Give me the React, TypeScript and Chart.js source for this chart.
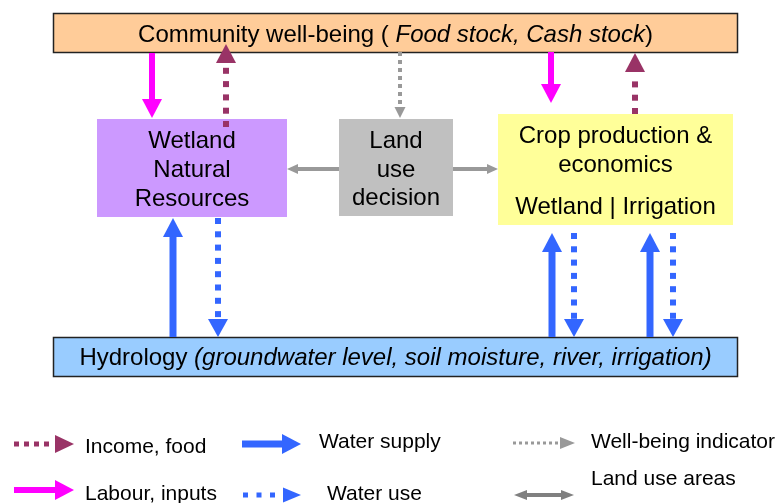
import React, { useEffect, useRef } from "react";
import { Chart, registerables } from "chart.js";

Chart.register(...registerables);

// ---------- diagram data ----------
// Boxes (text lines; "_" toggles italic)
const nodeLines: string[][] = [
  ["Community well-being ( _Food stock, Cash stock_)"],
  ["Wetland", "Natural", "Resources"],
  ["Land", "use", "decision"],
  ["Crop production &", "economics", "Wetland | Irrigation"],
  ["Hydrology _(groundwater level, soil moisture, river, irrigation)_"],
];
const nodeLeft = [53, 97, 339, 498, 53];
const nodeRight = [738, 287, 453, 733, 738];
const nodeTop = [13, 119, 119, 114, 337];
const nodeBottom = [53, 217, 216, 225, 377];
const nodeBaselines = [[42], [148, 177, 206], [148, 177, 205], [143, 172, 214], [365]];
const nodeFills = ["#FFCC99", "#CC99FF", "#C0C0C0", "#FFFF99", "#99CCFF"];
const nodeBordered = [true, false, false, false, true];

// Flows (arrows)
const flowKinds = [
  "labour", "income", "indicator", "labour", "income",
  "landuse", "landuse",
  "supply", "use", "supply", "use", "supply", "use",
];
const flowX0 = [152, 226, 400, 551, 635, 339, 453, 173, 218, 552, 574, 650, 673];
const flowY0 = [53, 127, 52, 52, 114, 169, 169, 337, 218, 337, 233, 337, 233];
const flowX1 = [152, 226, 400, 551, 635, 287, 498, 173, 218, 552, 574, 650, 673];
const flowY1 = [118, 44, 118, 103, 53, 169, 169, 218, 337, 233, 337, 233, 337];

// Legend
const legendKinds = ["income", "supply", "indicator", "labour", "use", "landuseBoth"];
const legendLabels = [
  "Income, food", "Water supply", "Well-being indicator",
  "Labour, inputs", "Water use", "Land use areas",
];
const legendX0 = [14, 242, 513, 14, 243, 514];
const legendX1 = [74, 301, 575, 74, 301, 574];
const legendY = [444, 444, 443, 490, 495, 495];
const legendTextX = [85, 319, 591, 85, 327, 591];
const legendTextBaseline = [453, 448, 448, 500, 500, 485];

// ---------- styles ----------
type ArrowStyle = {
  color: string; width: number; head: number; headW: number;
  dot?: number; period?: number; both?: boolean;
};
const kindStyles: Record<string, ArrowStyle> = {
  income: { color: "#993366", width: 6, head: 19, headW: 20, dot: 6, period: 13.3 },
  labour: { color: "#FF00FF", width: 6, head: 19, headW: 20 },
  indicator: { color: "#999999", width: 4, head: 11, headW: 11, dot: 4, period: 8 },
  landuse: { color: "#999999", width: 4, head: 11, headW: 10 },
  landuseBoth: { color: "#808080", width: 4, head: 13, headW: 10, both: true },
  supply: { color: "#3366FF", width: 7, head: 19, headW: 20 },
  use: { color: "#3366FF", width: 6, head: 18, headW: 20, dot: 6, period: 13.3 },
};
const legendStyleOverride: Record<string, Partial<ArrowStyle>> = {
  income: { dot: 5, period: 10, headW: 18 },
  use: { dot: 5, period: 13.5, headW: 15 },
  indicator: { dot: 3, period: 6, head: 15, headW: 12, width: 3 },
};

const FONT = '"Liberation Sans", Arial, Helvetica, sans-serif';

function drawArrow(
  ctx: CanvasRenderingContext2D,
  x1: number, y1: number, x2: number, y2: number, st: ArrowStyle
) {
  const dx = x2 - x1, dy = y2 - y1;
  const len = Math.hypot(dx, dy);
  const ux = dx / len, uy = dy / len;
  const nx = -uy, ny = ux;
  ctx.fillStyle = st.color;
  const s0 = st.both ? st.head : 0;
  const s1 = len - st.head;
  if (st.dot && st.period) {
    for (let d = s0; d + st.dot <= s1 + 0.5; d += st.period) {
      const cx = x1 + ux * (d + st.dot / 2);
      const cy = y1 + uy * (d + st.dot / 2);
      ctx.fillRect(cx - st.dot / 2, cy - st.dot / 2, st.dot, st.dot);
    }
  } else {
    const hw = st.width / 2;
    const ax = x1 + ux * s0, ay = y1 + uy * s0;
    const bx = x1 + ux * (s1 + 1), by = y1 + uy * (s1 + 1);
    ctx.beginPath();
    ctx.moveTo(ax + nx * hw, ay + ny * hw);
    ctx.lineTo(bx + nx * hw, by + ny * hw);
    ctx.lineTo(bx - nx * hw, by - ny * hw);
    ctx.lineTo(ax - nx * hw, ay - ny * hw);
    ctx.closePath();
    ctx.fill();
  }
  const head = (tx: number, ty: number, vx: number, vy: number) => {
    const bx = tx - vx * st.head, by = ty - vy * st.head;
    const h = st.headW / 2;
    ctx.beginPath();
    ctx.moveTo(tx, ty);
    ctx.lineTo(bx - vy * h, by + vx * h);
    ctx.lineTo(bx + vy * h, by - vx * h);
    ctx.closePath();
    ctx.fill();
  };
  head(x2, y2, ux, uy);
  if (st.both) head(x1, y1, -ux, -uy);
}

function drawRichText(
  ctx: CanvasRenderingContext2D, text: string, cx: number, baseline: number, size: number
) {
  const parts = text.split("_");
  const fonts = parts.map((_, i) => (i % 2 === 1 ? "italic " : "") + `${size}px ${FONT}`);
  let total = 0;
  const widths = parts.map((p, i) => {
    ctx.font = fonts[i];
    const w = ctx.measureText(p).width;
    total += w;
    return w;
  });
  let x = cx - total / 2;
  ctx.textAlign = "left";
  ctx.textBaseline = "alphabetic";
  ctx.fillStyle = "#000";
  parts.forEach((p, i) => {
    ctx.font = fonts[i];
    ctx.fillText(p, x, baseline);
    x += widths[i];
  });
}

const diagramPlugin = {
  id: "diagram",
  afterDatasetsDraw(chart: any) {
    const ctx: CanvasRenderingContext2D = chart.ctx;
    const xs = chart.scales.x, ys = chart.scales.y;
    const px = (v: number) => xs.getPixelForValue(v);
    const py = (v: number) => ys.getPixelForValue(v);
    ctx.save();

    // boxes
    nodeLines.forEach((lines, i) => {
      const l = px(nodeLeft[i]), r = px(nodeRight[i]);
      const t = py(nodeTop[i]), b = py(nodeBottom[i]);
      ctx.fillStyle = nodeFills[i];
      ctx.fillRect(l, t, r - l, b - t);
      if (nodeBordered[i]) {
        ctx.strokeStyle = "#222";
        ctx.lineWidth = 1.5;
        ctx.strokeRect(l + 0.5, t + 0.5, r - l - 1, b - t - 1);
      }
      const cx = (l + r) / 2;
      lines.forEach((line, j) => drawRichText(ctx, line, cx, py(nodeBaselines[i][j]), 24));
    });

    // flows
    flowKinds.forEach((k, i) => {
      drawArrow(ctx, px(flowX0[i]), py(flowY0[i]), px(flowX1[i]), py(flowY1[i]), kindStyles[k]);
    });

    // legend
    legendKinds.forEach((k, i) => {
      const st = { ...kindStyles[k], ...(legendStyleOverride[k] || {}) };
      drawArrow(ctx, px(legendX0[i]), py(legendY[i]), px(legendX1[i]), py(legendY[i]), st);
      ctx.font = `21px ${FONT}`;
      ctx.fillStyle = "#000";
      ctx.textAlign = "left";
      ctx.textBaseline = "alphabetic";
      ctx.fillText(legendLabels[i], px(legendTextX[i]), py(legendTextBaseline[i]));
    });
    ctx.restore();
  },
};

export default function App() {
  const ref = useRef<HTMLCanvasElement>(null);
  useEffect(() => {
    document.body.style.margin = "0";
    if (!ref.current) return;
    const pointsFor = (kind: string) =>
      flowKinds
        .map((k, i) => (k === kind ? [{ x: flowX0[i], y: flowY0[i] }, { x: flowX1[i], y: flowY1[i] }] : []))
        .flat();
    const kinds = Array.from(new Set(flowKinds));
    const chart = new Chart(ref.current, {
      type: "scatter",
      data: {
        datasets: kinds.map((k) => ({
          label: k,
          data: pointsFor(k),
          pointRadius: 0,
          showLine: false,
        })),
      },
      options: {
        animation: false,
        responsive: false,
        events: [],
        layout: { padding: 0 },
        plugins: { legend: { display: false }, tooltip: { enabled: false } },
        scales: {
          x: { type: "linear", min: 0, max: 779, display: false },
          y: { type: "linear", min: 0, max: 503, reverse: true, display: false },
        },
      },
      plugins: [diagramPlugin],
    });
    return () => chart.destroy();
  }, []);
  return (
    <div style={{ width: 779, height: 503, background: "#fff" }}>
      <canvas ref={ref} width={779} height={503} style={{ display: "block" }} />
    </div>
  );
}
